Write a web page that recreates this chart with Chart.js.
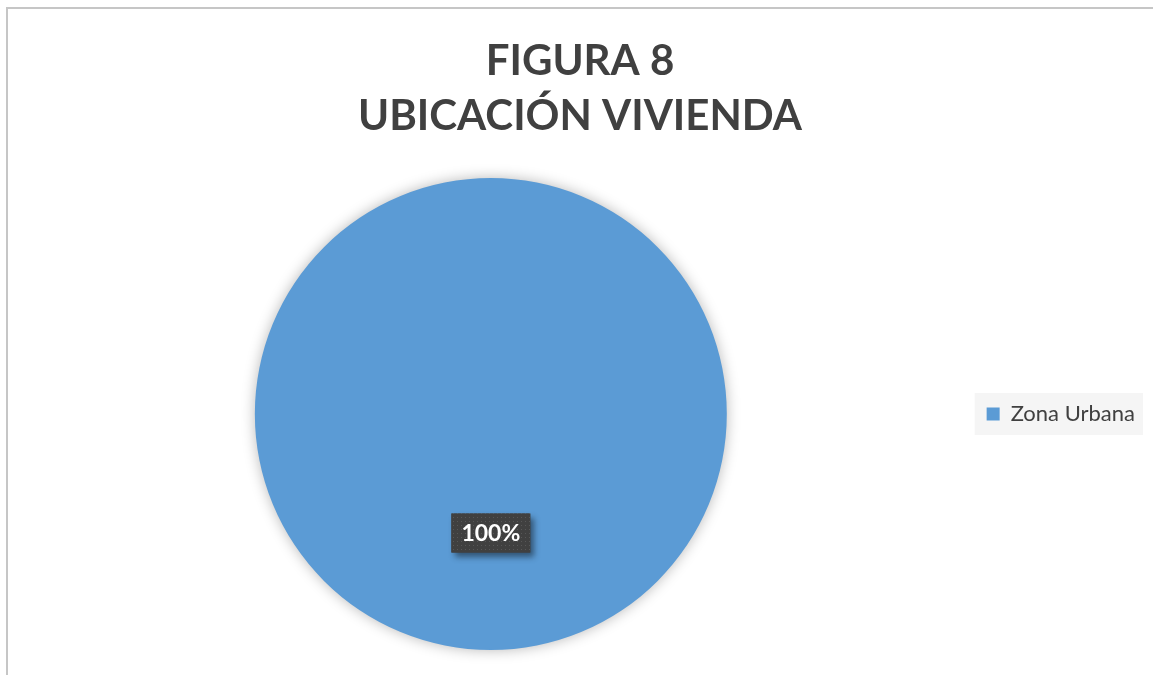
<!DOCTYPE html>
<html>
<head>
<meta charset="utf-8">
<script src="https://cdn.jsdelivr.net/npm/chart.js@4"></script>
<style>
  html, body { margin: 0; padding: 0; background: #ffffff; }
  #wrap { width: 1153px; height: 675px; position: relative; }
</style>
</head>
<body>
<div id="wrap"><canvas id="myChart" width="1153" height="675"></canvas></div>
<script>
// Datos del gráfico
const categorias = ["Zona Urbana"];
const valores = [100];
const colores = ["#5b9bd5"];
const titulo = ["FIGURA 8", "UBICACIÓN VIVIENDA"];

// Marco gris (solo bordes superior e izquierdo visibles) y fondo de la leyenda
const marco = {
  id: "marco",
  beforeDraw(chart) {
    const ctx = chart.ctx;
    ctx.save();
    ctx.fillStyle = "#ffffff";
    ctx.fillRect(0, 0, chart.width, chart.height);
    ctx.fillStyle = "#c6c6c6";
    ctx.fillRect(6, 7, chart.width - 6, 2);
    ctx.fillRect(6, 7, 2, chart.height - 7);
    const lg = chart.legend;
    if (lg && lg.legendHitBoxes && lg.legendHitBoxes.length) {
      const hb = lg.legendHitBoxes[0];
      ctx.fillStyle = "#f5f5f5";
      ctx.fillRect(hb.left - 12, hb.top - 10, hb.width + 20, hb.height + 20);
    }
    ctx.restore();
  }
};

// Sombra suave alrededor del pastel
const sombra = {
  id: "sombra",
  beforeDatasetDraw(chart) {
    const ctx = chart.ctx;
    ctx.save();
    ctx.shadowColor = "rgba(0,0,0,0.28)";
    ctx.shadowBlur = 14;
  },
  afterDatasetDraw(chart) {
    chart.ctx.restore();
  }
};

// Etiqueta de porcentaje con fondo oscuro
const etiqueta = {
  id: "etiqueta",
  afterDatasetsDraw(chart) {
    const ctx = chart.ctx;
    const meta = chart.getDatasetMeta(0);
    const total = valores.reduce((a, b) => a + b, 0);
    const pat = document.createElement("canvas");
    pat.width = 4; pat.height = 4;
    const pctx = pat.getContext("2d");
    pctx.fillStyle = "#404040";
    pctx.fillRect(0, 0, 4, 4);
    pctx.fillStyle = "#575757";
    pctx.fillRect(1, 1, 1, 1);
    meta.data.forEach((arc, i) => {
      const pos = arc.tooltipPosition();
      const txt = Math.round(valores[i] / total * 100) + "%";
      ctx.save();
      ctx.font = "bold 23px Lato";
      const w = ctx.measureText(txt).width + 20;
      const h = 39;
      const x = pos.x - w / 2, y = pos.y - h / 2 + 1;
      ctx.shadowColor = "rgba(0,0,0,0.45)";
      ctx.shadowBlur = 6;
      ctx.shadowOffsetX = 4;
      ctx.shadowOffsetY = 4;
      ctx.fillStyle = "#404040";
      ctx.fillRect(x, y, w, h);
      ctx.shadowColor = "transparent";
      ctx.fillStyle = ctx.createPattern(pat, "repeat");
      ctx.fillRect(x, y, w, h);
      ctx.fillStyle = "#ffffff";
      ctx.textAlign = "center";
      ctx.textBaseline = "middle";
      ctx.fillText(txt, pos.x, y + h / 2 + 1);
      ctx.restore();
    });
  }
};

const ctx = document.getElementById("myChart").getContext("2d");
new Chart(ctx, {
  type: "pie",
  data: {
    labels: categorias,
    datasets: [{
      data: valores,
      backgroundColor: colores,
      borderWidth: 0
    }]
  },
  options: {
    responsive: false,
    animation: false,
    layout: { padding: { left: 15, right: 8, top: 0, bottom: 25 } },
    plugins: {
      tooltip: { enabled: false },
      title: {
        display: true,
        text: titulo,
        color: "#404040",
        font: { family: "Lato", size: 42, weight: "bold", lineHeight: 1.31 },
        padding: { top: 34, bottom: 34 }
      },
      legend: {
        position: "right",
        fullSize: false,
        labels: {
          boxWidth: 13,
          boxHeight: 13,
          padding: 20,
          color: "#404040",
          font: { family: "Lato", size: 22 }
        }
      }
    }
  },
  plugins: [marco, sombra, etiqueta]
});
</script>
</body>
</html>
